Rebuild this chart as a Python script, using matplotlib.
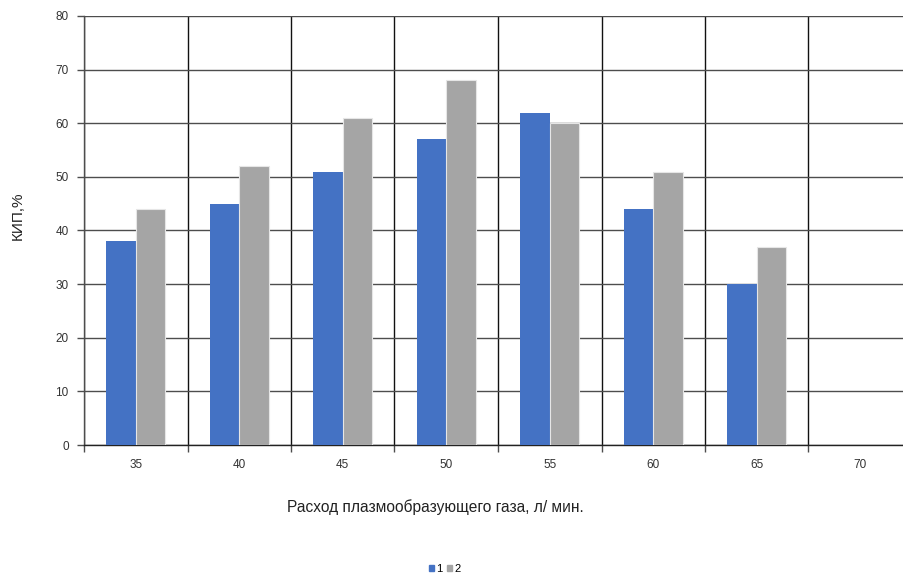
import matplotlib
matplotlib.use("Agg")
import matplotlib.pyplot as plt
import numpy as np
from matplotlib.patches import Patch

plt.rcParams['font.family'] = ['Liberation Sans', 'DejaVu Sans']

categories = ["35", "40", "45", "50", "55", "60", "65", "70"]
series1 = [38, 45, 51, 57, 62, 44, 30, np.nan]
series2 = [44, 52, 61, 68, 60, 51, 37, np.nan]
yticks = [0, 10, 20, 30, 40, 50, 60, 70, 80]

blue = "#4472C4"
gray = "#A5A5A5"
grid_c = "#4d4d4d"

fig = plt.figure(figsize=(9.04, 5.74), dpi=100)
ax = fig.add_axes([84/904, 129/574, 828/904, 429/574])

x = np.arange(len(categories))
w = 0.285
ax.bar(x - w/2, series1, width=w, color=blue, zorder=3)
ax.bar(x + w/2, series2, width=w, color=gray, edgecolor="#e6e6e6", linewidth=0.8, zorder=3)

ax.set_xlim(-0.5, len(categories) - 0.5)
ax.set_ylim(0, 80)
ax.set_yticks(yticks)
ax.set_yticklabels([str(v) for v in yticks], fontsize=8.5, color="#333333")
ax.set_xticks(x)
ax.set_xticklabels(categories, fontsize=8.5, color="#333333")
ax.set_xticks(np.arange(len(categories) + 1) - 0.5, minor=True)

ax.tick_params(axis='x', which='major', length=0, pad=10)
ax.tick_params(axis='x', which='minor', length=5, color=grid_c, width=1)
ax.tick_params(axis='y', length=5, color=grid_c, width=1, pad=6)

ax.grid(axis='y', which='major', color=grid_c, linewidth=1, zorder=1)
ax.grid(axis='x', which='minor', color="#111111", linewidth=1, zorder=1)
ax.set_axisbelow(True)

for s in ['top', 'right']:
    ax.spines[s].set_visible(False)
ax.spines['left'].set_color(grid_c)
ax.spines['bottom'].set_color("#222222")
ax.spines['left'].set_linewidth(1)
ax.spines['bottom'].set_linewidth(1)

fig.text(18/904, 1 - 216/574, "КИП,%", rotation=90, ha='center', va='center',
         fontsize=11, color="#222222")
fig.text(435/904, 1 - 507/574, "Расход плазмообразующего газа, л/ мин.",
         ha='center', va='center', fontsize=11.2, color="#222222")

handles = [Patch(color=blue, label="1"), Patch(color=gray, label="2")]
fig.legend(handles=handles, loc='center', bbox_to_anchor=(445/904, 1 - 569/574),
           ncol=2, frameon=False, fontsize=8, handlelength=0.45, handleheight=0.45,
           handletextpad=0.2, columnspacing=0.4)

fig.savefig("out.png", dpi=100)
